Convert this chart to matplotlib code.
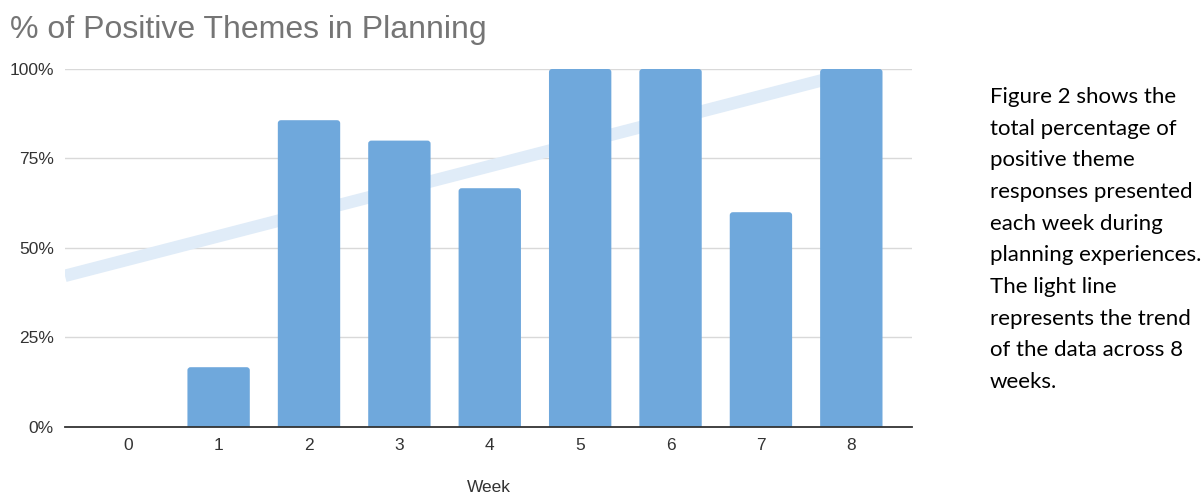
import matplotlib.pyplot as plt
from matplotlib.patches import FancyBboxPatch
import numpy as np

# weekly share of positive themes (week 0 had no responses)
weeks = [0, 1, 2, 3, 4, 5, 6, 7, 8]
positive_pct = [None, 16.7, 85.7, 80.0, 66.7, 100.0, 100.0, 60.0, 100.0]
y_ticks = [0, 25, 50, 75, 100]
y_tick_labels = ["0%", "25%", "50%", "75%", "100%"]

caption = ("Figure 2 shows the\ntotal percentage of\npositive theme\n"
           "responses presented\neach week during\nplanning experiences.\n"
           "The light line\nrepresents the trend\nof the data across 8\nweeks.")

BAR = "#6fa8dc"
TREND = "#e0ecf8"


def main():
    x = np.array(weeks, dtype=float)
    y = np.array(positive_pct, dtype=float)
    has_data = ~np.isnan(y)

    fig = plt.figure(figsize=(12.03, 4.95), dpi=100)
    ax = fig.add_axes([0.054, 0.1374, 0.704, 0.7232])

    # linear trend over the weeks that have data
    slope, icpt = np.polyfit(x[has_data], y[has_data], 1)
    tx = np.array([-0.7, 8.0])
    ax.plot(tx, slope * tx + icpt, color=TREND, lw=9, solid_capstyle="butt", zorder=2)

    bars = ax.bar(x, np.nan_to_num(y), width=0.69, color=BAR, zorder=3)

    # swap the plain rectangles for ones with slightly rounded tops
    # (bottom corners pushed below zero so the axis clips them)
    for rect in bars:
        h = rect.get_height()
        if h <= 0:
            continue
        rect.set_visible(False)
        ax.add_patch(FancyBboxPatch((rect.get_x(), -2), rect.get_width(), h + 2,
                                    boxstyle="round,pad=0,rounding_size=0.035",
                                    mutation_aspect=24, fc=BAR, ec="none", zorder=3))

    ax.set_xlim(-0.7, 8.67)
    ax.set_ylim(0, 100)
    ax.set_yticks(y_ticks)
    ax.set_yticklabels(y_tick_labels)
    ax.set_xticks(weeks)
    ax.set_xticklabels([str(w) for w in weeks])
    ax.tick_params(length=0, labelsize=12.5, colors="#333333")
    ax.tick_params(axis="x", pad=8)
    ax.tick_params(axis="y", pad=8)
    for lbl in ax.get_xticklabels() + ax.get_yticklabels():
        lbl.set_fontfamily("Liberation Sans")

    ax.grid(axis="y", color="#d9d9d9", lw=1, zorder=0)
    ax.set_axisbelow(True)
    for side in ["top", "right", "left"]:
        ax.spines[side].set_visible(False)
    ax.spines["bottom"].set_color("#333333")
    ax.spines["bottom"].set_linewidth(1.3)
    ax.spines["bottom"].set_zorder(4)

    fig.text(489 / 1203, 1 - 488 / 495, "Week", fontsize=12.5, color="#333333",
             family="Liberation Sans", va="center", ha="center")

    fig.text(10 / 1203, 1 - 30 / 495, "% of Positive Themes in Planning", fontsize=23,
             color="#757575", family="Liberation Sans", va="center", ha="left")

    fig.text(990 / 1203, 1 - 87 / 495, caption, fontsize=16, color="black",
             family="Lato", va="top", ha="left", linespacing=1.73)

    fig.savefig("out.png", dpi=100)


if __name__ == "__main__":
    main()
